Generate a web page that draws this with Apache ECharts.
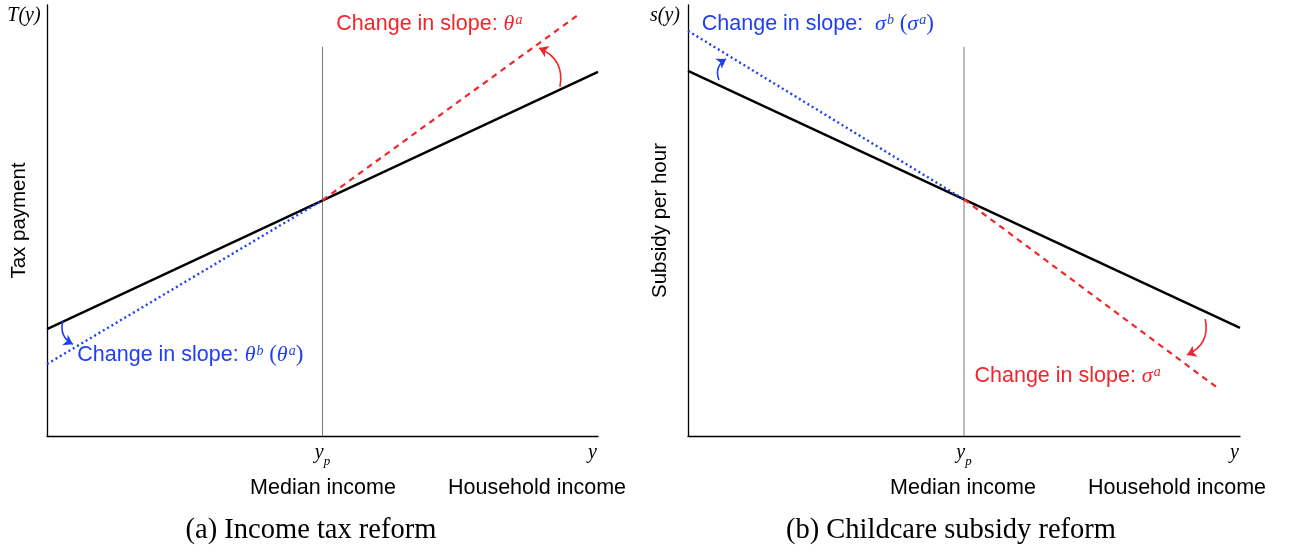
<!DOCTYPE html>
<html><head><meta charset="utf-8">
<script src="https://cdn.jsdelivr.net/npm/echarts@6/dist/echarts.min.js"></script>
<style>html,body{margin:0;padding:0;background:#fff}#c{width:1292px;height:552px}</style>
</head><body><div id="c"></div>
<script>
// ---- data (normalised axis units 0..1) ----
const xTickValues = [0.5, 0.99];
const xTickLabels = ['{i|y}{sub|p}', '{i|y}'];
const xTitles = ['Median income', 'Household income'];
const yTitles = ['Tax payment', 'Subsidy per hour'];
const yCorner = ['T(y)', 's(y)'];
const captions = ['(a) Income tax reform', '(b) Childcare subsidy reform'];

const taxBase = [[0, 0.248], [1, 0.845]];
const taxAbove = [[0.5, 0.547], [0.964, 0.977]];
const taxBelow = [[0, 0.167], [0.5, 0.547]];
const taxMedian = [[0.5, 0], [0.5, 0.903]];

const subBase = [[0, 0.847], [1, 0.251]];
const subBelow = [[0, 0.94], [0.5, 0.549]];
const subAbove = [[0.5, 0.549], [0.96, 0.111]];
const subMedian = [[0.5, 0], [0.5, 0.903]];

const taxArrowRed = [[0.931, 0.810], [0.893, 0.900]];
const taxArrowBlue = [[0.029, 0.267], [0.047, 0.213]];
const subArrowBlue = [[0.056, 0.826], [0.069, 0.875]];
const subArrowRed = [[0.937, 0.271], [0.904, 0.188]];

const taxNoteRed = [0.525, 0.956];
const taxNoteBlue = [0.055, 0.188];
const subNoteBlue = [0.025, 0.956];
const subNoteRed = [0.519, 0.139];

const noteTaxRed = '{t|Change in slope: }{g|θ}{sup|a}';
const noteTaxBlue = '{t|Change in slope: }{g|θ}{sup|b}{p| (}{g|θ}{sup|a}{p|)}';
const noteSubBlue = '{t|Change in slope:  }{g|σ}{sup|b}{p| (}{g|σ}{sup|a}{p|)}';
const noteSubRed = '{t|Change in slope: }{g|σ}{sup|a}';

// ---- styles ----
const RED = '#f0262a', BLUE = '#1f3ff0', BLACK = '#000';
const SANS = 'Liberation Sans, Arial, sans-serif';
const SERIF = 'Liberation Serif, Times New Roman, serif';
function rich(color) {
  return {
    t: {fontFamily: SANS, fontSize: 21.5, color: color, lineHeight: 28},
    g: {fontFamily: SERIF, fontStyle: 'italic', fontSize: 22, color: color, lineHeight: 28},
    sup: {fontFamily: SERIF, fontStyle: 'italic', fontSize: 14, color: color, lineHeight: 28, verticalAlign: 'top', padding: [3, 0, 0, 1]},
    p: {fontFamily: SERIF, fontSize: 23, color: color, lineHeight: 28}
  };
}
function line(data, idx, color, type, width) {
  return {type: 'line', xAxisIndex: idx, yAxisIndex: idx, data: data, symbol: 'none',
    lineStyle: {color: color, width: width, type: type}, silent: true, z: 3};
}
function arrow(coords, idx, color, curv) {
  return {type: 'lines', coordinateSystem: 'cartesian2d', xAxisIndex: idx, yAxisIndex: idx,
    symbol: ['none', 'arrow'], symbolSize: 9, silent: true, z: 4,
    lineStyle: {color: color, width: 1.6, curveness: curv, opacity: 1},
    data: [{coords: coords}]};
}
function note(pos, idx, text, color) {
  return {type: 'scatter', xAxisIndex: idx, yAxisIndex: idx, data: [pos], symbolSize: 0, silent: true, clip: false,
    itemStyle: {opacity: 1},
    label: {show: true, position: 'right', distance: 0, opacity: 1, formatter: text, rich: rich(color)}};
}
function xAxis(idx) {
  return {type: 'value', gridIndex: idx, min: 0, max: 1,
    axisLine: {show: true, onZero: false, lineStyle: {color: BLACK, width: 1.3}},
    axisTick: {show: false}, splitLine: {show: false},
    axisLabel: {show: true, customValues: xTickValues, margin: 6,
      formatter: function (v) { return v === 0.5 ? xTickLabels[0] : xTickLabels[1]; },
      rich: {
        i: {fontFamily: SERIF, fontStyle: 'italic', fontSize: 20, color: BLACK, lineHeight: 22},
        sub: {fontFamily: SERIF, fontStyle: 'italic', fontSize: 13, color: BLACK, lineHeight: 22, verticalAlign: 'bottom', padding: [0, 0, -4, 0]}
      }}};
}
function yAxis(idx, name) {
  return {type: 'value', gridIndex: idx, min: 0, max: 1,
    axisLine: {show: true, onZero: false, lineStyle: {color: BLACK, width: 1.3}},
    axisTick: {show: false}, splitLine: {show: false}, axisLabel: {show: false},
    name: name, nameLocation: 'middle', nameGap: 17, nameRotate: 90,
    nameTextStyle: {fontFamily: SANS, fontSize: 20.5, color: BLACK}};
}
function gtext(x, y, text, font, align) {
  return {type: 'text', x: x, y: y, style: {text: text, font: font, fill: BLACK, align: align || 'center', verticalAlign: 'middle'}};
}

const chart = echarts.init(document.getElementById('c'), null, {renderer: 'canvas'});
chart.setOption({
  animation: false,
  grid: [
    {left: 47, top: 5, width: 551, height: 431},
    {left: 688, top: 5, width: 552, height: 431}
  ],
  xAxis: [xAxis(0), xAxis(1)],
  yAxis: [yAxis(0, yTitles[0]), yAxis(1, yTitles[1])],
  graphic: [
    gtext(24, 16, yCorner[0], 'italic 20px ' + SERIF),
    gtext(665, 16, yCorner[1], 'italic 20px ' + SERIF),
    gtext(323, 488, xTitles[0], '21.5px ' + SANS),
    gtext(537, 488, xTitles[1], '21.5px ' + SANS),
    gtext(963, 488, xTitles[0], '21.5px ' + SANS),
    gtext(1177, 488, xTitles[1], '21.5px ' + SANS),
    gtext(311, 531, captions[0], '28.5px ' + SERIF),
    gtext(951, 531, captions[1], '28.5px ' + SERIF)
  ],
  series: [
    line(taxMedian, 0, '#777', 'solid', 1),
    line(taxBase, 0, BLACK, 'solid', 2.4),
    line(taxAbove, 0, RED, [6, 5], 2.2),
    line(taxBelow, 0, BLUE, [2, 3], 2.4),
    arrow(taxArrowRed, 0, RED, -0.4),
    arrow(taxArrowBlue, 0, BLUE, -0.4),
    note(taxNoteRed, 0, noteTaxRed, RED),
    note(taxNoteBlue, 0, noteTaxBlue, BLUE),

    line(subMedian, 1, '#777', 'solid', 1),
    line(subBase, 1, BLACK, 'solid', 2.4),
    line(subAbove, 1, RED, [6, 5], 2.2),
    line(subBelow, 1, BLUE, [2, 3], 2.4),
    arrow(subArrowBlue, 1, BLUE, 0.4),
    arrow(subArrowRed, 1, RED, 0.4),
    note(subNoteBlue, 1, noteSubBlue, BLUE),
    note(subNoteRed, 1, noteSubRed, RED)
  ]
});
</script></body></html>
